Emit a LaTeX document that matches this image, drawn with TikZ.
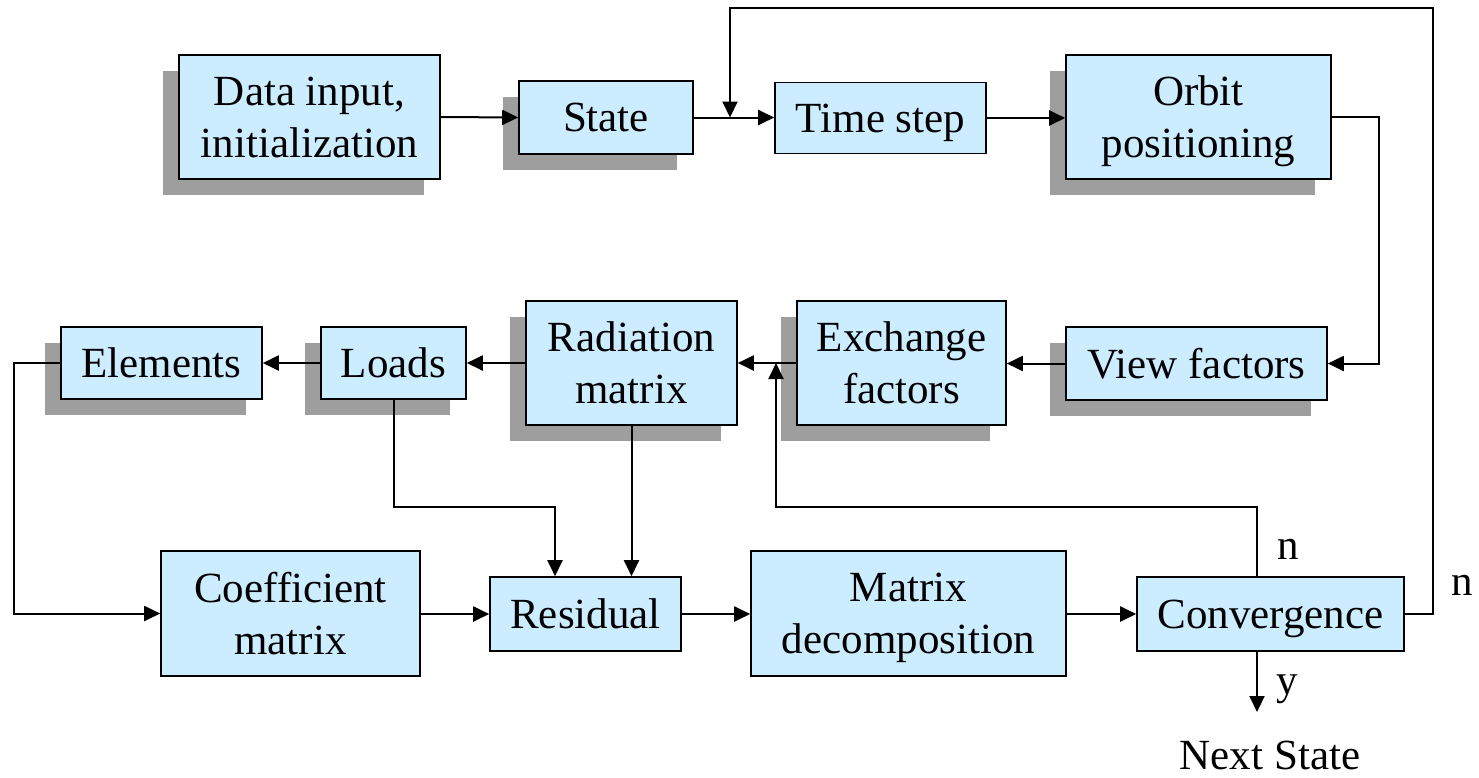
\documentclass[tikz,border=0pt]{standalone}
\usepackage{fontspec}
\setmainfont{Liberation Serif}
\usetikzlibrary{arrows.meta,shadows}
\definecolor{boxblue}{HTML}{CCECFF}
\definecolor{shadowgray}{HTML}{9E9E9E}
\tikzset{
  blk/.style={draw=black, line width=1.6pt, fill=boxblue, align=center, inner sep=0pt,
    text depth=0pt, font=\fontsize{43}{52}\selectfont},
  shd/.style={drop shadow={shadow xshift=-16pt, shadow yshift=-16pt, fill=shadowgray, opacity=1}},
  conn/.style={line width=2pt, -{Triangle[length=16pt,width=15pt]}},
  lbl/.style={font=\fontsize{43}{52}\selectfont, inner sep=0pt}
}
\begin{document}
\begin{tikzpicture}[x=1pt,y=-1pt]
\useasboundingbox (0,0) rectangle (1479,777);
% top row
\node[blk,shd,minimum width=261pt,minimum height=124pt] (data) at (309.5,117) {Data input,\\initialization};
\node[blk,shd,minimum width=174pt,minimum height=73pt] (state) at (606,117.5) {State};
\node[blk,minimum width=211pt,minimum height=71pt] (time) at (880.5,118) {Time step};
\node[blk,shd,minimum width=265pt,minimum height=124pt] (orbit) at (1198.5,117) {Orbit\\positioning};
% middle row
\node[blk,shd,minimum width=261pt,minimum height=73pt] (view) at (1196.5,363.5) {View factors};
\node[blk,shd,minimum width=209pt,minimum height=124pt] (exch) at (901.5,363) {Exchange\\factors};
\node[blk,shd,minimum width=211pt,minimum height=124pt] (rad) at (631.5,363) {Radiation\\matrix};
\node[blk,shd,minimum width=145pt,minimum height=72pt] (loads) at (393.5,363) {Loads};
\node[blk,shd,minimum width=201pt,minimum height=72pt] (elem) at (161.5,363) {Elements};
% bottom row
\node[blk,minimum width=259pt,minimum height=125pt] (coef) at (290.5,613.5) {Coefficient\\matrix};
\node[blk,minimum width=191pt,minimum height=74pt] (resid) at (585.5,614) {Residual};
\node[blk,minimum width=315pt,minimum height=125pt] (matrix) at (908.5,613.5) {Matrix\\decomposition};
\node[blk,minimum width=267pt,minimum height=74pt] (conv) at (1270.5,614) {Convergence};
% labels
\node[lbl] (n1) at (1288,549) {n};
\node[lbl] (n2) at (1462,585) {n};
\node[lbl] (ylab) at (1287,689) {y};
\node[lbl,text depth=0pt] (next) at (1270,755) {Next State};
% coordinates
\coordinate (join) at (730,117.5);
\coordinate (loopTL) at (730,8);
\coordinate (loopTR) at (1433,8);
\coordinate (orbR) at (1379,117);
\coordinate (elemL) at (14,363);
\coordinate (ldBend) at (555,507);
\coordinate (cvx) at (1257,0);
\coordinate (fbL) at (776,507);
\coordinate (outEnd) at (1257,712);
% connectors
\draw[conn] (data.east) -- (state.west);
\draw[conn] (state.east) -- (time.west |- state.east);
\draw[conn] (conv.east) -| (loopTR) -- (loopTL) -- (join);
\draw[conn] (time.east) -- (orbit.west |- time.east);
\draw[conn] (orbit.east) -- (orbR) |- (view.east);
\draw[conn] (view.west) -- (exch.east |- view.west);
\draw[conn] (exch.west) -- (rad.east);
\draw[conn] (rad.west |- loads.east) -- (loads.east);
\draw[conn] (loads.west) -- (elem.east);
\draw[conn] (elem.west) -- (elemL) |- (coef.west);
\draw[conn] (loads.south) |- (ldBend) -- (ldBend |- resid.north);
\draw[conn] (rad.south) -- (rad.south |- resid.north);
\draw[conn] (coef.east |- resid.west) -- (resid.west);
\draw[conn] (resid.east) -- (matrix.west |- resid.east);
\draw[conn] (matrix.east |- conv.west) -- (conv.west);
\draw[conn] (conv.north -| cvx) |- (fbL) -- (fbL |- rad.east);
\draw[conn] (conv.south -| cvx) -- (outEnd);
\end{tikzpicture}
\end{document}
